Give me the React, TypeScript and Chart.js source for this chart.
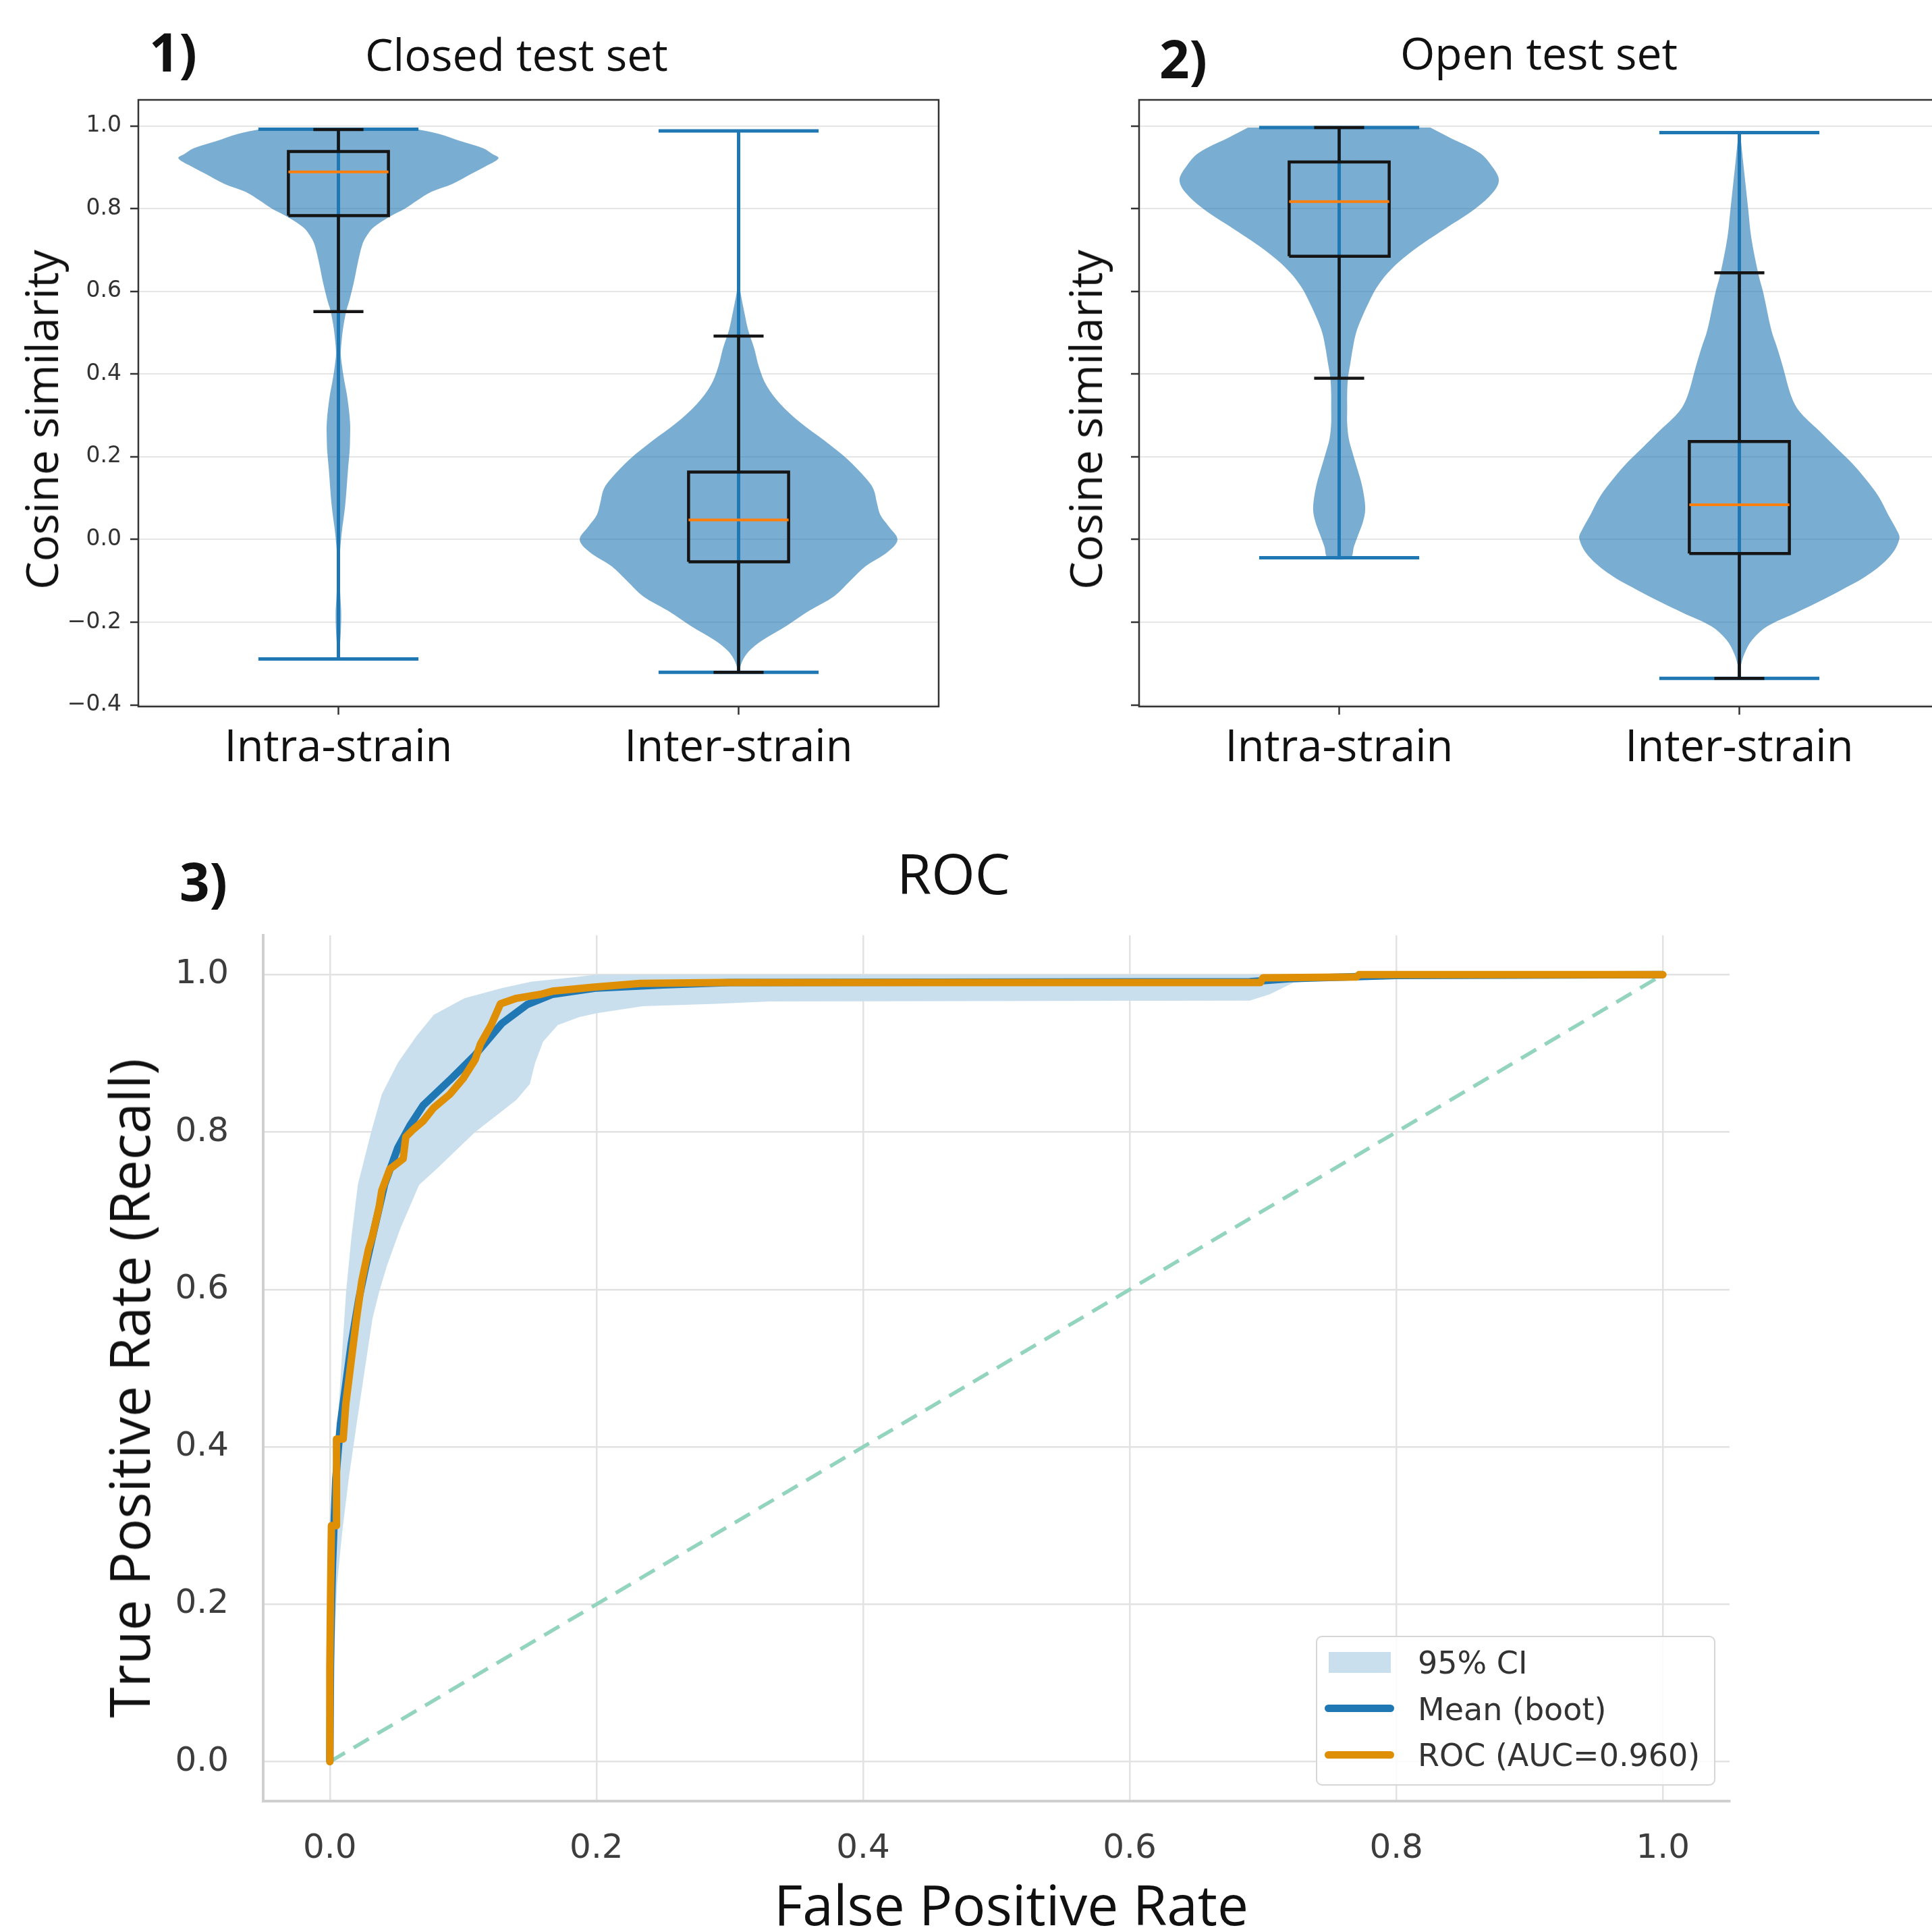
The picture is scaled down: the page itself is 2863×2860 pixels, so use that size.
import React, { useEffect, useRef } from 'react';
import { Chart, registerables } from 'chart.js';

Chart.register(...registerables);

// ---------------- DATA ----------------
const violinCategories = ['Intra-strain', 'Inter-strain'];
const violinPositions = [1, 2];
const violinYTicks = [-0.4, -0.2, 0, 0.2, 0.4, 0.6, 0.8, 1.0];

// Closed test set – Intra-strain: y values and KDE half-widths (x units)
const closedIntraY = [0.992, 0.981, 0.963, 0.946, 0.932, 0.922, 0.905, 0.885, 0.860, 0.841, 0.820, 0.800, 0.780, 0.754, 0.730, 0.711, 0.667, 0.624, 0.580, 0.554, 0.519, 0.480, 0.449, 0.420, 0.388, 0.345, 0.284, 0.240, 0.214, 0.170, 0.083, 0.014, -0.047, -0.091, -0.140, -0.178, -0.222, -0.265, -0.289];
const closedIntraW = [0.195, 0.250, 0.306, 0.362, 0.385, 0.400, 0.373, 0.334, 0.285, 0.233, 0.197, 0.166, 0.127, 0.087, 0.068, 0.059, 0.048, 0.039, 0.028, 0.020, 0.013, 0.008, 0.006, 0.009, 0.014, 0.022, 0.029, 0.029, 0.028, 0.024, 0.017, 0.008, 0.003, 0.003, 0.005, 0.007, 0.006, 0.003, 0.001];
// Closed test set – Inter-strain
const closedInterY = [0.988, 0.800, 0.650, 0.613, 0.596, 0.551, 0.506, 0.462, 0.417, 0.372, 0.328, 0.283, 0.238, 0.194, 0.149, 0.122, 0.087, 0.060, 0.033, 0.000, -0.029, -0.065, -0.101, -0.137, -0.172, -0.208, -0.244, -0.271, -0.297, -0.321];
const closedInterW = [0.001, 0.001, 0.002, 0.003, 0.005, 0.014, 0.024, 0.039, 0.051, 0.070, 0.104, 0.154, 0.216, 0.272, 0.317, 0.337, 0.346, 0.354, 0.374, 0.397, 0.374, 0.317, 0.278, 0.239, 0.177, 0.121, 0.059, 0.025, 0.008, 0.001];
// Open test set – Intra-strain
const openIntraY = [0.996, 0.971, 0.935, 0.898, 0.869, 0.840, 0.800, 0.753, 0.717, 0.680, 0.644, 0.608, 0.571, 0.535, 0.499, 0.462, 0.426, 0.390, 0.353, 0.317, 0.281, 0.244, 0.208, 0.172, 0.135, 0.099, 0.070, 0.041, 0.012, -0.017, -0.044];
const openIntraW = [0.228, 0.278, 0.351, 0.385, 0.399, 0.385, 0.340, 0.267, 0.211, 0.160, 0.121, 0.093, 0.073, 0.056, 0.042, 0.034, 0.028, 0.022, 0.020, 0.020, 0.020, 0.024, 0.034, 0.045, 0.056, 0.063, 0.065, 0.059, 0.048, 0.037, 0.028];
// Open test set – Inter-strain
const openInterY = [0.984, 0.908, 0.863, 0.800, 0.729, 0.640, 0.596, 0.506, 0.462, 0.417, 0.346, 0.310, 0.265, 0.221, 0.185, 0.149, 0.104, 0.060, 0.025, 0.002, -0.040, -0.086, -0.125, -0.150, -0.178, -0.210, -0.243, -0.278, -0.310, -0.336];
const openInterW = [0.002, 0.010, 0.015, 0.022, 0.030, 0.048, 0.060, 0.080, 0.095, 0.109, 0.130, 0.150, 0.197, 0.243, 0.281, 0.313, 0.348, 0.372, 0.392, 0.400, 0.377, 0.321, 0.250, 0.200, 0.140, 0.070, 0.032, 0.012, 0.003, 0.001];

// Box stats: [min, whiskerLow, q1, median, q3, whiskerHigh, max]
const closedIntraStats = [-0.289, 0.551, 0.783, 0.889, 0.938, 0.991, 0.992];
const closedInterStats = [-0.321, -0.321, -0.054, 0.047, 0.163, 0.492, 0.988];
const openIntraStats = [-0.044, 0.390, 0.685, 0.817, 0.913, 0.996, 0.996];
const openInterStats = [-0.336, -0.336, -0.034, 0.084, 0.237, 0.645, 0.984];

// ROC panel
const rocTicks = [0, 0.2, 0.4, 0.6, 0.8, 1.0];
const rocFpr = [0, 0, 0.0006, 0.0012, 0.005, 0.005, 0.010, 0.012, 0.016, 0.020, 0.024, 0.029, 0.032, 0.037, 0.039, 0.045, 0.055, 0.057, 0.063, 0.070, 0.078, 0.090, 0.100, 0.109, 0.113, 0.121, 0.128, 0.140, 0.158, 0.167, 0.197, 0.233, 0.294, 0.698, 0.700, 0.770, 0.772, 1.0];
const rocTpr = [0, 0.12, 0.22, 0.30, 0.30, 0.41, 0.41, 0.455, 0.509, 0.563, 0.611, 0.651, 0.668, 0.705, 0.726, 0.753, 0.766, 0.794, 0.804, 0.814, 0.831, 0.848, 0.868, 0.892, 0.912, 0.936, 0.963, 0.970, 0.975, 0.979, 0.984, 0.989, 0.990, 0.990, 0.996, 0.997, 1.0, 1.0];
const meanFpr = [0, 0.0005, 0.001, 0.002, 0.0045, 0.008, 0.012, 0.016, 0.022, 0.027, 0.032, 0.041, 0.051, 0.060, 0.070, 0.090, 0.109, 0.129, 0.148, 0.167, 0.200, 0.250, 0.300, 0.690, 0.720, 0.800, 1.0];
const meanTpr = [0, 0.12, 0.18, 0.25, 0.36, 0.43, 0.48, 0.53, 0.59, 0.63, 0.667, 0.733, 0.780, 0.808, 0.834, 0.866, 0.898, 0.938, 0.962, 0.975, 0.983, 0.987, 0.990, 0.991, 0.995, 0.999, 1.0];
const ciUpperFpr = [0, 0.0005, 0.0016, 0.003, 0.0048, 0.0083, 0.0122, 0.0161, 0.021, 0.031, 0.039, 0.051, 0.065, 0.078, 0.101, 0.129, 0.151, 0.185, 0.200, 1.0];
const ciUpperTpr = [0, 0.12, 0.225, 0.32, 0.40, 0.496, 0.597, 0.665, 0.733, 0.800, 0.848, 0.888, 0.922, 0.949, 0.970, 0.983, 0.991, 0.997, 1.0, 1.0];
const ciLowerFpr = [0, 0.002, 0.0054, 0.0093, 0.0142, 0.020, 0.026, 0.032, 0.037, 0.043, 0.053, 0.067, 0.080, 0.109, 0.125, 0.140, 0.150, 0.154, 0.160, 0.171, 0.187, 0.200, 0.235, 0.290, 0.330, 0.690, 0.705, 0.723, 0.790, 1.0];
const ciLowerTpr = [0, 0.08, 0.225, 0.292, 0.360, 0.428, 0.496, 0.563, 0.597, 0.631, 0.678, 0.733, 0.753, 0.800, 0.821, 0.841, 0.861, 0.888, 0.915, 0.936, 0.946, 0.951, 0.960, 0.963, 0.966, 0.967, 0.975, 0.990, 0.999, 1.0];
const chanceLine = [0, 1];

const legendLabels = ['95% CI', 'Mean (boot)', 'ROC (AUC=0.960)'];

// ---------------- STYLE ----------------
const OPEN = "'Open Sans', 'Noto Sans', sans-serif";
const DEJAVU = "'DejaVu Sans', sans-serif";
const VIOLIN_FILL = 'rgba(31,119,180,0.6)';
const C0 = '#1f77b4';
const BOX = '#151515';
const MEDIAN = '#ff7f0e';

const pts = (xs: number[], ys: number[]) => xs.map((x, i) => ({ x, y: ys[i] }));
const seg = (data: any[], color: string, width: number, order: number) => ({
  data, showLine: true, borderColor: color, borderWidth: width, pointRadius: 0,
  fill: false, order, borderCapStyle: 'butt', tension: 0,
});

function violinDatasets(pos: number, ys: number[], ws: number[], st: number[]) {
  const [mn, wlo, q1, med, q3, whi, mx] = st;
  const right = ys.map((y, i) => ({ x: pos + ws[i], y }));
  const left = ys.map((y, i) => ({ x: pos - ws[i], y })).reverse();
  const bw = 0.125, cw = 0.0625, mw = 0.2;
  return [
    { data: right.concat(left), showLine: true, fill: 'shape', backgroundColor: VIOLIN_FILL, borderWidth: 0, pointRadius: 0, order: 10, tension: 0.35 },
    seg([{ x: pos, y: mn }, { x: pos, y: mx }], C0, 5, 6),
    seg([{ x: pos - mw, y: mn }, { x: pos + mw, y: mn }], C0, 5, 6),
    seg([{ x: pos - mw, y: mx }, { x: pos + mw, y: mx }], C0, 5, 6),
    seg([{ x: pos - bw, y: q1 }, { x: pos + bw, y: q1 }, { x: pos + bw, y: q3 }, { x: pos - bw, y: q3 }, { x: pos - bw, y: q1 }], BOX, 4.5, 2),
    seg([{ x: pos, y: q1 }, { x: pos, y: wlo }], BOX, 4.5, 2),
    seg([{ x: pos, y: q3 }, { x: pos, y: whi }], BOX, 4.5, 2),
    seg([{ x: pos - cw, y: wlo }, { x: pos + cw, y: wlo }], BOX, 4.5, 2),
    seg([{ x: pos - cw, y: whi }, { x: pos + cw, y: whi }], BOX, 4.5, 2),
    seg([{ x: pos - bw, y: med }, { x: pos + bw, y: med }], MEDIAN, 4, 1),
  ];
}

const framePlugin = {
  id: 'frame',
  afterDatasetsDraw(chart: any) {
    const { ctx, chartArea: a } = chart;
    ctx.save();
    ctx.strokeStyle = '#333333';
    ctx.lineWidth = 2.5;
    ctx.strokeRect(a.left, a.top, a.right - a.left, a.bottom - a.top);
    ctx.restore();
  },
};

const fmtTick = (v: number) => (v < 0 ? '\u2212' + Math.abs(v).toFixed(1) : v.toFixed(1));

function violinConfig(groups: any[], o: { yWidth: number; padRight: number; xHeight: number; showLabels: boolean }) {
  const datasets: any[] = [];
  groups.forEach((g) => datasets.push(...violinDatasets(g.pos, g.ys, g.ws, g.st)));
  return {
    type: 'scatter',
    data: { datasets },
    options: {
      animation: false, responsive: false, devicePixelRatio: 1, events: [],
      layout: { padding: { top: 38, right: o.padRight, left: 0, bottom: 0 } },
      elements: { point: { radius: 0 } },
      plugins: { legend: { display: false }, tooltip: { enabled: false } },
      scales: {
        x: {
          type: 'linear', min: 0.5, max: 2.5,
          afterBuildTicks: (s: any) => { s.ticks = violinPositions.map((v) => ({ value: v })); },
          afterFit: (s: any) => { s.height = o.xHeight; },
          ticks: { callback: (_v: any, i: number) => violinCategories[i], font: { family: OPEN, size: 65 }, color: '#111', padding: 11, maxRotation: 0, autoSkip: false },
          grid: { drawOnChartArea: false, drawTicks: true, tickLength: 12, tickColor: '#333', tickWidth: 2.5 },
          border: { display: false },
        },
        y: {
          type: 'linear', min: -0.404, max: 1.063,
          afterBuildTicks: (s: any) => { s.ticks = violinYTicks.map((v) => ({ value: v })); },
          afterFit: (s: any) => { s.width = o.yWidth; },
          ticks: { callback: (v: number) => (o.showLabels ? fmtTick(v) : ''), font: { family: DEJAVU, size: 33 }, color: '#333', padding: 13, autoSkip: false },
          grid: { color: '#e6e6e6', lineWidth: 2, tickLength: 12, tickColor: '#333', tickWidth: 2.5 },
          border: { display: false },
        },
      },
    },
    plugins: [framePlugin],
  };
}

function rocConfig() {
  const band = pts(ciUpperFpr, ciUpperTpr).concat(pts(ciLowerFpr, ciLowerTpr).reverse());
  const rocScale = (isX: boolean) => ({
    type: 'linear', min: -0.05, max: 1.05,
    afterBuildTicks: (s: any) => { s.ticks = rocTicks.map((v) => ({ value: v })); },
    afterFit: (s: any) => { if (isX) s.height = 191; else s.width = 390; },
    ticks: { callback: (v: number) => v.toFixed(1), font: { family: DEJAVU, size: 50 }, color: '#3d3d3d', padding: isX ? 41 : 51, autoSkip: false, maxRotation: 0 },
    grid: { color: '#e2e2e2', lineWidth: 2.5, drawTicks: false },
    border: { display: true, color: '#cfcfcf', width: 4 },
  });
  return {
    type: 'scatter',
    data: {
      datasets: [
        { label: legendLabels[2], data: pts(rocFpr, rocTpr), showLine: true, borderColor: '#de8f05', borderWidth: 11, pointRadius: 0, order: 0, borderJoinStyle: 'round', borderCapStyle: 'round' },
        { label: legendLabels[1], data: pts(meanFpr, meanTpr), showLine: true, borderColor: '#1f78b4', borderWidth: 11, pointRadius: 0, order: 1, borderJoinStyle: 'round' },
        { label: 'chance', data: pts(chanceLine, chanceLine), showLine: true, borderColor: '#93d4bf', borderWidth: 5.5, borderDash: [26, 15], pointRadius: 0, order: 2 },
        { label: legendLabels[0], data: band, showLine: true, fill: 'shape', backgroundColor: '#c9dfee', borderWidth: 0, pointRadius: 0, order: 3 },
      ],
    },
    options: {
      animation: false, responsive: false, devicePixelRatio: 1, events: [],
      layout: { padding: { top: 86, right: 57, left: 0, bottom: 0 } },
      elements: { point: { radius: 0 }, line: { tension: 0 } },
      plugins: { legend: { display: false }, tooltip: { enabled: false } },
      scales: { x: rocScale(true), y: rocScale(false) },
    },
  };
}

function ChartCanvas(props: { left: number; top: number; width: number; height: number; build: () => any }) {
  const ref = useRef<HTMLCanvasElement | null>(null);
  useEffect(() => {
    const chart = new Chart(ref.current as HTMLCanvasElement, props.build());
    return () => chart.destroy();
  }, []);
  return (
    <canvas
      ref={ref}
      width={props.width}
      height={props.height}
      style={{ position: 'absolute', left: props.left, top: props.top, width: props.width, height: props.height }}
    />
  );
}

function Label(props: { text: string; left: number; baseline: number; size: number; bold?: boolean; family?: string; color?: string; asc?: number }) {
  const asc = props.asc ?? 0.888;
  return (
    <div
      style={{
        position: 'absolute', left: props.left, top: props.baseline - asc * props.size, margin: 0,
        fontFamily: props.family ?? OPEN, fontSize: props.size, lineHeight: 1, whiteSpace: 'nowrap',
        fontWeight: props.bold ? 700 : 400, color: props.color ?? '#111',
      }}
    >
      {props.text}
    </div>
  );
}

function RotLabel(props: { text: string; cx: number; cy: number; size: number }) {
  return (
    <div
      style={{
        position: 'absolute', left: props.cx, top: props.cy, margin: 0,
        transform: 'translate(-50%, -50%) rotate(-90deg)',
        fontFamily: OPEN, fontSize: props.size, lineHeight: 1, whiteSpace: 'nowrap', color: '#111',
      }}
    >
      {props.text}
    </div>
  );
}

export default function App() {
  const closedGroups = [
    { pos: violinPositions[0], ys: closedIntraY, ws: closedIntraW, st: closedIntraStats },
    { pos: violinPositions[1], ys: closedInterY, ws: closedInterW, st: closedInterStats },
  ];
  const openGroups = [
    { pos: violinPositions[0], ys: openIntraY, ws: openIntraW, st: openIntraStats },
    { pos: violinPositions[1], ys: openInterY, ws: openInterW, st: openInterStats },
  ];
  return (
    <div style={{ position: 'absolute', left: 0, top: 0, width: 2863, height: 2860, overflow: 'hidden', background: '#ffffff' }}>
      <ChartCanvas left={0} top={110} width={1420} height={1190}
        build={() => violinConfig(closedGroups, { yWidth: 205, padRight: 29, xHeight: 253, showLabels: true })} />
      <ChartCanvas left={1540} top={110} width={1344} height={1190}
        build={() => violinConfig(openGroups, { yWidth: 148, padRight: 10, xHeight: 253, showLabels: false })} />
      <ChartCanvas left={0} top={1300} width={2620} height={1560} build={rocConfig} />

      <RotLabel text="Cosine similarity" cx={60} cy={622} size={66} />
      <RotLabel text="Cosine similarity" cx={1607} cy={622} size={66} />
      <RotLabel text="True Positive Rate (Recall)" cx={190} cy={2057} size={82} />
      <Label text="False Positive Rate" left={1147} baseline={2853} size={82} />

      <Label text="1)" left={221} baseline={106} size={78} bold />
      <Label text="Closed test set" left={541} baseline={105} size={66} />
      <Label text="2)" left={1718} baseline={116} size={78} bold />
      <Label text="Open test set" left={2075} baseline={103} size={66} />
      <Label text="3)" left={266} baseline={1335} size={78} bold />
      <Label text="ROC" left={1329} baseline={1325} size={83} />

      <div style={{ position: 'absolute', left: 1950, top: 2424, width: 588, height: 218, border: '2px solid #d6d6d6', borderRadius: 9, background: 'rgba(255,255,255,0.85)' }} />
      <div style={{ position: 'absolute', left: 1969, top: 2448, width: 92, height: 31, background: '#c9dfee' }} />
      <div style={{ position: 'absolute', left: 1963, top: 2526, width: 103, height: 11, borderRadius: 6, background: '#1f78b4' }} />
      <div style={{ position: 'absolute', left: 1963, top: 2595, width: 103, height: 11, borderRadius: 6, background: '#de8f05' }} />
      <Label text={legendLabels[0]} left={2101} baseline={2480} size={46} family={DEJAVU} color="#333" asc={0.846} />
      <Label text={legendLabels[1]} left={2101} baseline={2549} size={46} family={DEJAVU} color="#333" asc={0.846} />
      <Label text={legendLabels[2]} left={2101} baseline={2617} size={46} family={DEJAVU} color="#333" asc={0.846} />
    </div>
  );
}
